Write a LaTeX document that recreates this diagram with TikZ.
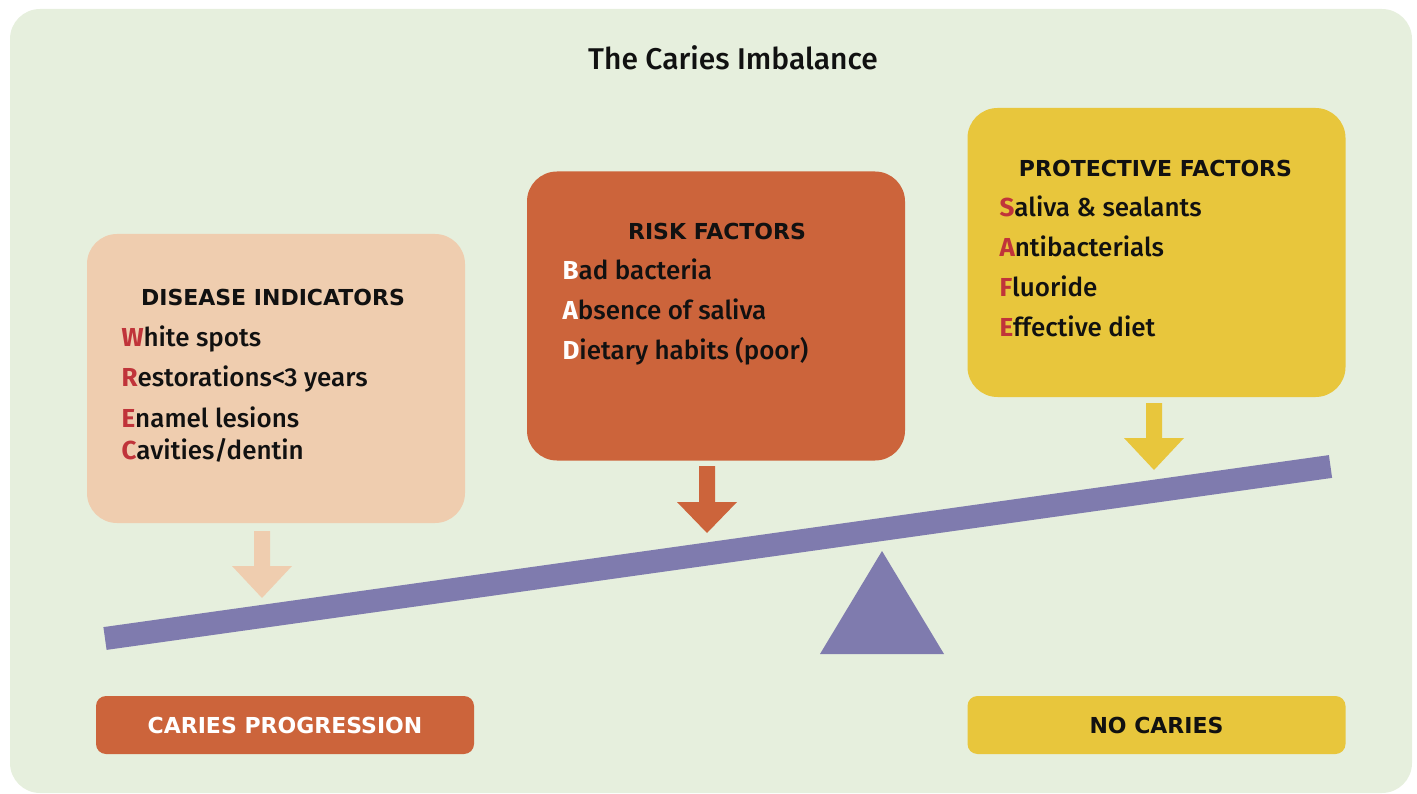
\documentclass[tikz,border=0pt]{standalone}
\usepackage{fontspec}
\setmainfont{Fira Sans}[UprightFont=* Medium, BoldFont=* Bold]
\newfontfamily\headfont{DejaVu Sans}
\definecolor{bggreen}{HTML}{E6EFDD}
\definecolor{peach}{HTML}{EFCDAF}
\definecolor{rust}{HTML}{CC643B}
\definecolor{mustard}{HTML}{E8C63C}
\definecolor{beamblue}{HTML}{7F7BAE}
\definecolor{initred}{HTML}{C0343A}
\definecolor{inkblack}{HTML}{111111}
\newcommand{\ini}[1]{{\bfseries\color{initred}#1}}
\newcommand{\iniw}[1]{{\bfseries\color{white}#1}}
% block arrow: colour, centre x, top, head top, tip
\newcommand{\blkarrow}[5]{%
    \fill[#1] (#2-8,#3) -- (#2+8,#3) -- (#2+8,#4) -- (#2+30,#4) -- (#2,#5)
        -- (#2-30,#4) -- (#2-8,#4) -- cycle;}
\tikzset{
    factorbox/.style={rounded corners=30pt, minimum width=378pt, minimum height=289pt, inner sep=0pt},
    tagbox/.style={rounded corners=10pt, minimum width=378pt, minimum height=58pt, inner sep=0pt,
        font=\headfont\bfseries\fontsize{22}{24}\selectfont},
    headtext/.style={anchor=base, text=inkblack, font=\headfont\bfseries\fontsize{22}{24}\selectfont},
    itemtext/.style={anchor=base west, text=inkblack, font=\fontsize{26}{30}\selectfont}
}
\begin{document}
\begin{tikzpicture}[x=1pt, y=-1pt]
        \useasboundingbox (0,0) rectangle (1417,794);
        % Background
        \fill[bggreen, rounded corners=30pt] (10,9) rectangle (1412,793);
        \node[anchor=base, text=inkblack, font=\fontsize{30}{34}\selectfont] (title) at (733,70) {The Caries Imbalance};

        % Boxes
        \node[factorbox, fill=peach] (indicators) at (276,378.5) {};
        \node[factorbox, fill=rust] (risk) at (716,316) {};
        \node[factorbox, fill=mustard] (protect) at (1156.5,252.5) {};

        % Disease indicators
        \node[headtext] (indhead) at (273,306) {DISEASE INDICATORS};
        \node[itemtext] (indw) at (118,347) {\ini{W}hite spots};
        \node[itemtext] (indr) at (118,387) {\ini{R}estorations<3 years};
        \node[itemtext] (inde) at (118,427) {\ini{E}namel lesions};
        \node[itemtext] (indc) at (118,459) {\ini{C}avities/dentin};

        % Risk factors
        \node[headtext] (riskhead) at (717,240) {RISK FACTORS};
        \node[itemtext] (riskb) at (559,280) {\iniw{B}ad bacteria};
        \node[itemtext] (riska) at (559,320) {\iniw{A}bsence of saliva};
        \node[itemtext] (riskd) at (559,360) {\iniw{D}ietary habits (poor)};

        % Protective factors
        \node[headtext] (prothead) at (1155.5,177) {PROTECTIVE FACTORS};
        \node[itemtext] (prots) at (996,217) {\ini{S}aliva \& sealants};
        \node[itemtext] (prota) at (996,257) {\ini{A}ntibacterials};
        \node[itemtext] (protf) at (996,297) {\ini{F}luoride};
        \node[itemtext] (prote) at (996,337) {\ini{E}ffective diet};

        % Arrows
        \blkarrow{peach}{262}{531}{566}{598}
        \blkarrow{rust}{707}{466}{502}{533}
        \blkarrow{mustard}{1154}{403}{438}{470}

        % Seesaw
        \draw[beamblue, line width=23pt] (105,638.5) -- (1330.5,466.5);
        \fill[beamblue] (882,551) -- (944,654) -- (820,654) -- cycle;

        % Outcomes
        \node[tagbox, fill=rust, text=white] (progress) at (285,725) {CARIES PROGRESSION};
        \node[tagbox, fill=mustard, text=inkblack] (nocaries) at (1156.5,725) {NO CARIES};
    \end{tikzpicture}
\end{document}
